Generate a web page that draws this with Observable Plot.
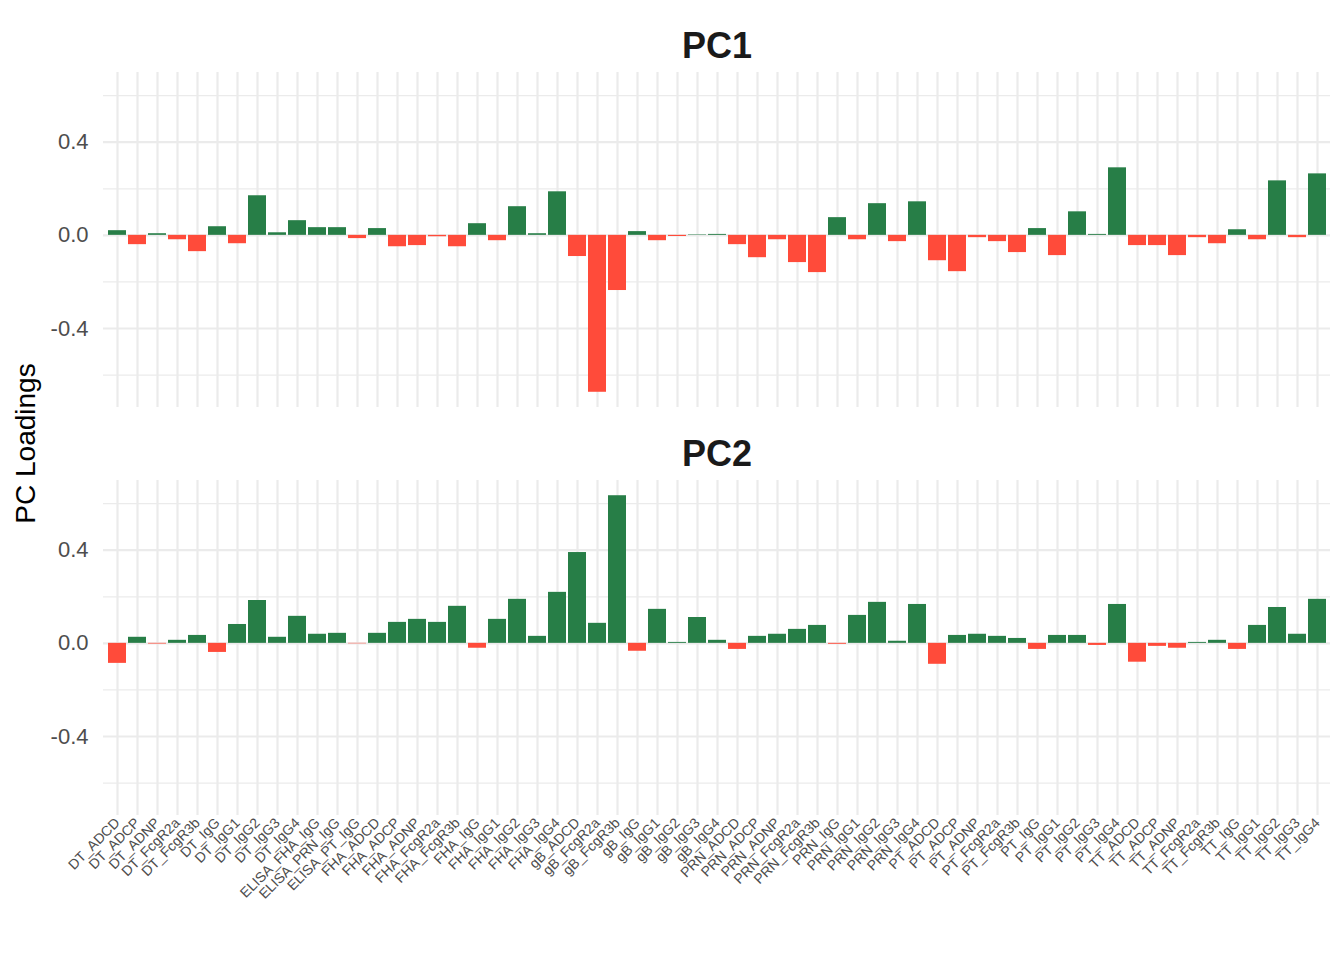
<!DOCTYPE html>
<html><head><meta charset="utf-8">
<script src="https://cdn.jsdelivr.net/npm/d3@7"></script>
<script src="https://cdn.jsdelivr.net/npm/@observablehq/plot@0.6"></script>
<style>body{margin:0;background:#fff;}</style>
</head><body><div id="chart"></div>
<script>
const variables = ["DT_ADCD","DT_ADCP","DT_ADNP","DT_FcgR2a","DT_FcgR3b","DT_IgG","DT_IgG1","DT_IgG2","DT_IgG3","DT_IgG4",
  "ELISA_FHA_IgG","ELISA_PRN_IgG","ELISA_PT_IgG","FHA_ADCD","FHA_ADCP","FHA_ADNP","FHA_FcgR2a","FHA_FcgR3b","FHA_IgG","FHA_IgG1",
  "FHA_IgG2","FHA_IgG3","FHA_IgG4","gB_ADCD","gB_FcgR2a","gB_FcgR3b","gB_IgG","gB_IgG1","gB_IgG2","gB_IgG3","gB_IgG4",
  "PRN_ADCD","PRN_ADCP","PRN_ADNP","PRN_FcgR2a","PRN_FcgR3b","PRN_IgG","PRN_IgG1","PRN_IgG2","PRN_IgG3","PRN_IgG4",
  "PT_ADCD","PT_ADCP","PT_ADNP","PT_FcgR2a","PT_FcgR3b","PT_IgG","PT_IgG1","PT_IgG2","PT_IgG3","PT_IgG4",
  "TT_ADCD","TT_ADCP","TT_ADNP","TT_FcgR2a","TT_FcgR3b","TT_IgG","TT_IgG1","TT_IgG2","TT_IgG3","TT_IgG4"];
const pc1 = [0.020,-0.040,0.007,-0.019,-0.070,0.037,-0.036,0.170,0.011,0.063,
  0.033,0.033,-0.014,0.029,-0.049,-0.044,-0.006,-0.049,0.050,-0.023,
  0.123,0.007,0.187,-0.091,-0.674,-0.237,0.016,-0.023,-0.005,0.002,0.004,
  -0.040,-0.096,-0.019,-0.117,-0.160,0.076,-0.019,0.136,-0.027,0.144,
  -0.109,-0.156,-0.010,-0.027,-0.074,0.029,-0.087,0.101,0.004,0.290,
  -0.044,-0.044,-0.087,-0.010,-0.036,0.024,-0.019,0.234,-0.010,0.264];
const pc2 = [-0.086,0.026,-0.003,0.013,0.034,-0.039,0.081,0.184,0.026,0.116,
  0.039,0.043,-0.002,0.043,0.090,0.103,0.090,0.159,-0.021,0.103,
  0.189,0.030,0.219,0.390,0.086,0.634,-0.034,0.146,0.004,0.111,0.013,
  -0.026,0.030,0.039,0.060,0.077,-0.004,0.120,0.176,0.009,0.167,
  -0.090,0.034,0.039,0.030,0.021,-0.026,0.034,0.034,-0.009,0.167,
  -0.081,-0.013,-0.021,0.004,0.013,-0.026,0.077,0.154,0.039,0.189];
const panels = ["PC1","PC2"];
const yMajor = [-0.4, 0, 0.4];
const yMinor = [-0.6, -0.2, 0.2, 0.6];
const yTitle = "PC Loadings";

const data = [];
variables.forEach((v, i) => {
  data.push({pc: "PC1", variable: v, value: pc1[i]});
  data.push({pc: "PC2", variable: v, value: pc2[i]});
});
const lo = d3.min(data, d => d.value), hi = d3.max(data, d => d.value);
const pad = (hi - lo) * 0.05;

const font = "'Liberation Sans', Arial, Helvetica, sans-serif";
const chart = Plot.plot({
  width: 1344, height: 960,
  marginLeft: 103, marginRight: 14, marginTop: 72, marginBottom: 145,
  style: {fontFamily: font, background: "#fff"},
  x: {domain: variables, paddingInner: 0.1, paddingOuter: 0.15, label: null},
  y: {domain: [lo - pad, hi + pad], label: null},
  fy: {domain: panels, paddingInner: 0.179, paddingOuter: 0, label: null, axis: null},
  marks: [
    Plot.ruleY(yMinor, {stroke: "#ebebeb", strokeWidth: 1.2}),
    Plot.ruleY(yMajor, {stroke: "#ebebeb", strokeWidth: 2.2}),
    Plot.gridX({stroke: "#ebebeb", strokeOpacity: 1, strokeWidth: 2.2}),
    Plot.barY(data, {x: "variable", y: "value", fy: "pc", fill: d => d.value >= 0 ? "#277E47" : "#FF4B3A"}),
    Plot.axisY(yMajor, {tickSize: 0, tickPadding: 15, fontSize: 22, fill: "#4d4d4d", tickFormat: d => d.toFixed(1), label: null}),
    Plot.axisX({tickSize: 0, tickRotate: -45, fontSize: 14, fill: "#4d4d4d", label: null, tickPadding: 5}),
    Plot.text(panels, {fy: d => d, text: d => d, frameAnchor: "top", dy: -40, fontSize: 36, fontWeight: "bold", fill: "#1a1a1a"})
  ]
});
document.getElementById("chart").appendChild(chart);
d3.select(chart).append("text")
  .attr("transform", "translate(35,443.5) rotate(-90)")
  .attr("text-anchor", "middle")
  .attr("font-family", font)
  .attr("font-size", 28)
  .attr("fill", "#000")
  .text(yTitle);
</script>
</body></html>
